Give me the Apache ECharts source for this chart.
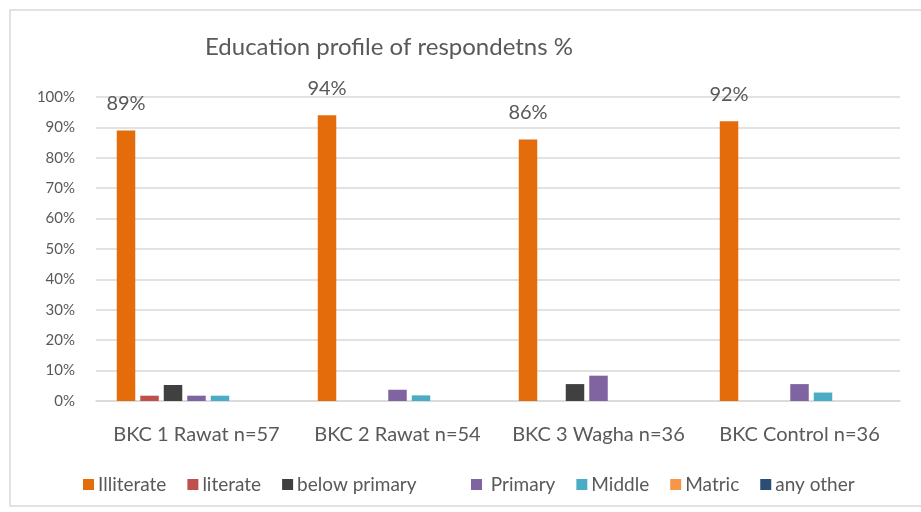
<!DOCTYPE html>
<html>
<head>
<meta charset="utf-8">
<script src="https://cdn.jsdelivr.net/npm/echarts@6/dist/echarts.min.js"></script>
<style>
  html, body { margin: 0; padding: 0; background: #fff; }
  #chart { width: 921px; height: 512px; }
</style>
</head>
<body>
<div id="chart"></div>
<script>
// Survey groups along the x axis
const categories = ['BKC 1 Rawat n=57', 'BKC 2 Rawat n=54', 'BKC 3 Wagha n=36', 'BKC Control n=36'];

// Share of respondents per education level, in percent
const illiterate   = [89, 94, 86, 92];
const literate     = [1.75, 0, 0, 0];
const belowPrimary = [5.26, 0, 5.56, 0];
const primary      = [1.75, 3.7, 8.33, 5.56];
const middle       = [1.75, 1.85, 0, 2.78];
const matric       = [0, 0, 0, 0];
const anyOther     = [0, 0, 0, 0];

// Value-axis tick labels
const yTicks = ['0%', '10%', '20%', '30%', '40%', '50%', '60%', '70%', '80%', '90%', '100%'];

const FONT = 'Lato, "Open Sans", sans-serif';
const TEXT = '#595959';

const seriesDefs = [
  { name: 'Illiterate',    data: illiterate,   color: '#E46C0A', label: true },
  { name: 'literate',      data: literate,     color: '#C0504D' },
  { name: 'below primary', data: belowPrimary, color: '#404040' },
  { name: ' Primary',      data: primary,      color: '#8064A2' },
  { name: 'Middle',        data: middle,       color: '#4BACC6' },
  { name: 'Matric',        data: matric,       color: '#F79646' },
  { name: 'any other',     data: anyOther,     color: '#2C4D75' }
];

const chart = echarts.init(document.getElementById('chart'), null, { renderer: 'canvas' });

const legendBase = {
  orient: 'horizontal',
  top: 470,
  itemWidth: 11,
  itemHeight: 11,
  itemGap: 21,
  icon: 'rect',
  selectedMode: false,
  textStyle: { fontFamily: FONT, fontSize: 19, color: TEXT, padding: [0, 0, 0, -1] }
};

chart.setOption({
  animation: false,
  backgroundColor: '#fff',
  graphic: [{
    type: 'rect',
    shape: { x: 10, y: 10, width: 940, height: 496 },
    style: { fill: 'none', stroke: '#d9d9d9', lineWidth: 1.5 },
    silent: true
  }],
  title: {
    text: 'Education profile of respondetns %',
    left: 384,
    top: 30,
    textAlign: 'center',
    textStyle: { fontFamily: FONT, fontSize: 24, fontWeight: 'normal', color: TEXT }
  },
  legend: [
    Object.assign({}, legendBase, { left: 78, data: ['Illiterate', 'literate', 'below primary'] }),
    Object.assign({}, legendBase, { left: 466, data: [' Primary', 'Middle', 'Matric', 'any other'] })
  ],
  grid: { left: 96, right: 21, top: 97, bottom: 111, containLabel: false },
  xAxis: {
    type: 'category',
    data: categories,
    axisLine: { lineStyle: { color: '#d9d9d9', width: 1.5 } },
    axisTick: { show: false },
    axisLabel: { interval: 0, fontFamily: FONT, fontSize: 20, color: TEXT, margin: 24 }
  },
  yAxis: {
    type: 'value',
    min: 0,
    max: 100,
    interval: 10,
    axisLine: { show: false },
    axisTick: { show: false },
    splitLine: { lineStyle: { color: '#d9d9d9', width: 1.5 } },
    axisLabel: {
      fontFamily: FONT, fontSize: 15, color: TEXT, margin: 21,
      formatter: function (v) { return yTicks[Math.round(v / 10)]; }
    }
  },
  series: seriesDefs.map(function (s) {
    return {
      name: s.name,
      type: 'bar',
      data: s.data,
      barWidth: 18.5,
      barGap: '27%',
      barCategoryGap: '18%',
      itemStyle: { color: s.color },
      label: s.label ? {
        show: true,
        position: 'top',
        distance: 17,
        fontFamily: FONT,
        fontSize: 20,
        color: TEXT,
        formatter: function (p) { return p.value + '%'; }
      } : { show: false }
    };
  })
});
</script>
</body>
</html>
